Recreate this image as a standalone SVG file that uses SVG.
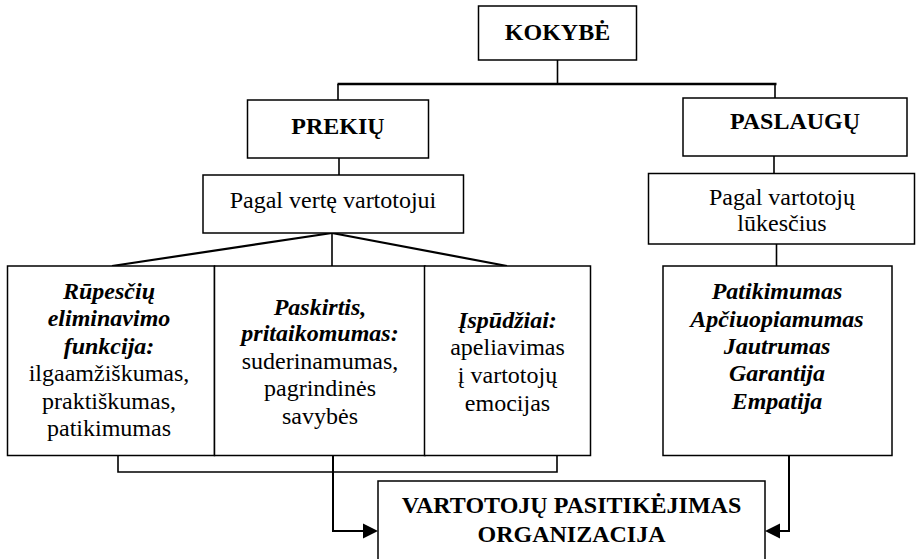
<svg xmlns="http://www.w3.org/2000/svg" width="917" height="559" viewBox="0 0 917 559">
  <defs>
    <style>
      .box { fill: #fff; stroke: #000; stroke-width: 1.5; }
      .ln { fill: none; stroke: #000; stroke-width: 1.6; }
      .thick { fill: none; stroke: #000; stroke-width: 2.6; }
      .fan { fill: none; stroke: #000; stroke-width: 2.2; }
      .arrowline { fill: none; stroke: #000; stroke-width: 2; }
      .head { fill: #000; stroke: none; }
      text { font-family: "Liberation Serif", "Times New Roman", serif; font-size: 24px; fill: #000; text-anchor: middle; }
      .b { font-weight: bold; }
      .bi { font-weight: bold; font-style: italic; }
    </style>
  </defs>
  <rect width="917" height="559" fill="#fff"/>

  <!-- connectors -->
  <g id="connectors">
    <line class="ln" x1="557.5" y1="60" x2="557.5" y2="84"/>
    <line class="thick" x1="337.5" y1="84" x2="776.5" y2="84"/>
    <line class="ln" x1="338" y1="84" x2="338" y2="100"/>
    <line class="ln" x1="775" y1="84" x2="775" y2="98"/>
    <line class="ln" x1="339" y1="158" x2="339" y2="175"/>
    <line class="ln" x1="774" y1="156" x2="774" y2="173"/>
    <line class="ln" x1="776.5" y1="244" x2="776.5" y2="266"/>
    <!-- fan from "Pagal vertę vartotojui" -->
    <line class="fan" x1="332" y1="233" x2="112" y2="266"/>
    <line class="fan" x1="332" y1="233" x2="507" y2="266"/>
    <line class="ln" x1="332" y1="233" x2="332" y2="266"/>
    <!-- bracket under goods boxes -->
    <polyline class="ln" points="118,456 118,472 557,472 557,456"/>
    <!-- arrows into the bottom box -->
    <polyline class="arrowline" points="333,456 333,531 364,531"/>
    <polygon class="head" points="378,531 363,523.5 363,538.5"/>
    <polyline class="arrowline" points="789,456 789,531 779,531"/>
    <polygon class="head" points="765,531 780,523.5 780,538.5"/>
  </g>

  <g id="kokybe">
    <rect class="box" x="478.5" y="6" width="158" height="54"/>
    <text class="b" x="557.5" y="39.5">KOKYBĖ</text>
  </g>

  <g id="prekiu">
    <rect class="box" x="247.5" y="100" width="181" height="58"/>
    <text class="b" x="338" y="133.5">PREKIŲ</text>
  </g>

  <g id="paslaugu">
    <rect class="box" x="683" y="98" width="224" height="58"/>
    <text class="b" x="795" y="128.5">PASLAUGŲ</text>
  </g>

  <g id="pagal-verte">
    <rect class="box" x="203" y="175" width="260.5" height="58"/>
    <text x="333" y="208">Pagal vertę vartotojui</text>
  </g>

  <g id="pagal-lukescius">
    <rect class="box" x="648.5" y="173.5" width="266" height="70.5"/>
    <text x="782" y="205">Pagal vartotojų</text>
    <text x="782" y="230.5">lūkesčius</text>
  </g>

  <g id="rupesciu">
    <rect class="box" x="7.5" y="266" width="207" height="189.5"/>
    <text class="bi" x="109" y="298.5">Rūpesčių</text>
    <text class="bi" x="109" y="326">eliminavimo</text>
    <text class="bi" x="109" y="353.5">funkcija:</text>
    <text x="109" y="381">ilgaamžiškumas,</text>
    <text x="109" y="408.5">praktiškumas,</text>
    <text x="109" y="436">patikimumas</text>
  </g>

  <g id="paskirtis">
    <rect class="box" x="214.5" y="266" width="210.5" height="189.5"/>
    <text class="bi" x="320" y="314.5">Paskirtis,</text>
    <text class="bi" x="320" y="341">pritaikomumas:</text>
    <text x="320" y="368.5">suderinamumas,</text>
    <text x="320" y="396">pagrindinės</text>
    <text x="320" y="423.5">savybės</text>
  </g>

  <g id="ispudziai">
    <rect class="box" x="424.5" y="266" width="166" height="189.5"/>
    <text class="bi" x="507.5" y="327.5">Įspūdžiai:</text>
    <text x="507.5" y="355">apeliavimas</text>
    <text x="507.5" y="382.5">į vartotojų</text>
    <text x="507.5" y="410.5">emocijas</text>
  </g>

  <g id="paslaugu-savybes">
    <rect class="box" x="663" y="266" width="229" height="189.5"/>
    <text class="bi" x="777" y="298.5">Patikimumas</text>
    <text class="bi" x="777" y="326.5">Apčiuopiamumas</text>
    <text class="bi" x="777" y="353.5">Jautrumas</text>
    <text class="bi" x="777" y="381">Garantija</text>
    <text class="bi" x="777" y="409">Empatija</text>
  </g>

  <g id="pasitikejimas">
    <rect class="box" x="378" y="481" width="387" height="82"/>
    <text class="b" x="571.5" y="513">VARTOTOJŲ PASITIKĖJIMAS</text>
    <text class="b" x="571.5" y="541.5">ORGANIZACIJA</text>
  </g>
</svg>
